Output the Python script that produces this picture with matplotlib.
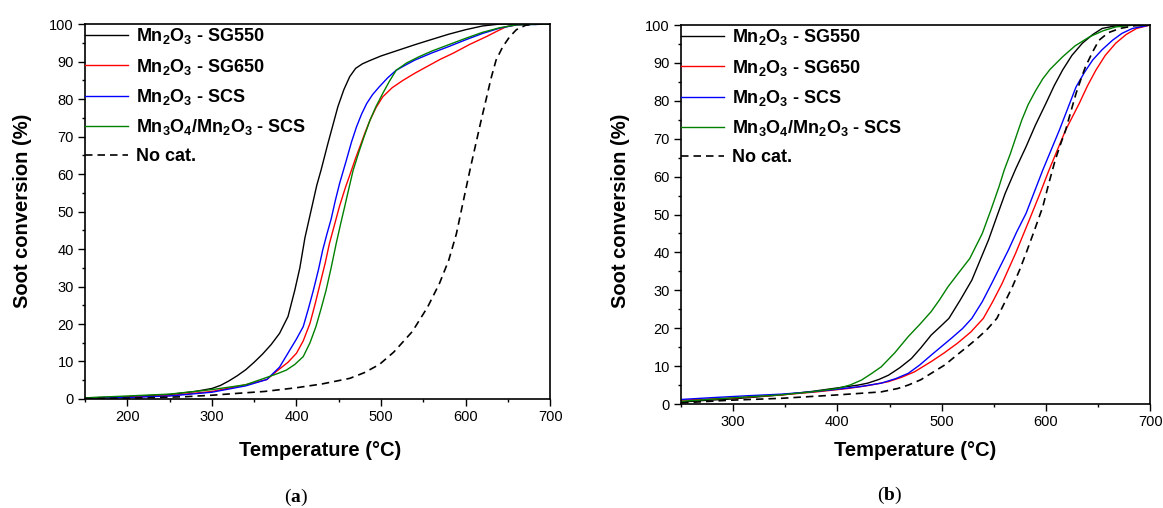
import matplotlib
matplotlib.use('Agg')
import matplotlib.pyplot as plt
from matplotlib.ticker import MultipleLocator

plt.rcParams['font.family'] = ['Liberation Sans', 'DejaVu Sans']
plt.rcParams['mathtext.fontset'] = 'custom'
plt.rcParams['mathtext.rm'] = 'Liberation Sans'
plt.rcParams['mathtext.bf'] = 'Liberation Sans:bold'

##############################################################################
# Data: temperature (deg C) and soot conversion (%).

# Panel (a)
a_sg550_t = [150, 200, 250, 280, 300, 310, 320, 330, 340, 350, 360, 370, 380, 390,
             398, 404, 410, 418, 424, 429, 437, 443, 449, 456, 463, 470, 478, 486,
             500, 520, 540, 557, 580, 600, 620, 640, 660, 700]
a_sg550_c = [0.3, 0.6, 1.2, 2.0, 2.8, 3.6, 4.8, 6.2, 7.8, 9.8, 12, 14.5, 17.5, 22,
             29, 35, 43, 51, 57, 61, 68, 73, 78, 82.5, 86, 88.2, 89.4, 90.2,
             91.5, 93, 94.5, 95.7, 97.3, 98.5, 99.5, 100, 100, 100]

a_sg650_t = [150, 200, 250, 300, 340, 365, 376, 390, 400, 408, 416, 422, 428, 434,
             439, 445, 451, 458, 465, 470, 475, 481, 487, 494, 502, 513, 526, 540,
             557, 570, 585, 605, 624, 638, 648, 660, 680, 700]
a_sg650_c = [0.2, 0.5, 0.9, 2.0, 3.8, 5.2, 7.3, 9.8, 12.2, 15.5, 20.2, 25.3, 30.8, 36.3,
             41.5, 46.5, 51.5, 56.5, 61, 64.3, 67.3, 71, 74.4, 77.7, 80.6, 83, 85, 86.9,
             89, 90.6, 92.2, 94.6, 96.6, 98.2, 99.3, 99.8, 100, 100]

a_scs_t = [150, 200, 250, 300, 340, 365, 380, 392, 400, 408, 414, 420, 426, 431,
           436, 441, 446, 451, 459, 465, 471, 477, 483, 490, 498, 508, 518, 530,
           540, 560, 580, 600, 620, 640, 660, 700]
a_scs_c = [0.2, 0.4, 0.8, 1.8, 3.5, 5.2, 8.5, 13, 16, 19.3, 24, 29, 34.5, 39.7,
           44, 48, 53, 57.5, 63.7, 68.5, 72.6, 76, 78.8, 81.2, 83.3, 85.7, 87.7, 89.2,
           90.4, 92.3, 94, 95.8, 97.5, 98.9, 99.8, 100]

a_mix_t = [150, 200, 250, 300, 340, 368, 378, 388, 398, 408, 416, 423, 429, 435,
           441, 447, 452, 457, 462, 467, 474, 480, 487, 494, 502, 510, 518, 530,
           545, 560, 580, 600, 620, 640, 660, 700]
a_mix_c = [0.3, 0.8, 1.3, 2.5, 3.8, 6, 6.8, 7.7, 9.2, 11.3, 15, 19.3, 24, 29,
           35, 41.5, 46.5, 51.3, 56.2, 61, 66, 70, 74.4, 78, 81.5, 84.8, 87.7, 89.6,
           91.3, 92.8, 94.5, 96.2, 97.8, 99, 99.8, 100]

a_nocat_t = [150, 200, 268, 300, 330, 362, 400, 430, 463, 480, 498, 515, 537, 555,
             569, 580, 589, 600, 606, 612, 618, 624, 630, 636, 644, 652, 660, 671,
             685, 700]
a_nocat_c = [0.1, 0.2, 0.6, 1.0, 1.5, 2, 3, 4, 5.5, 7, 9.2, 12.5, 18, 24.5,
             30.8, 37, 44, 55.7, 62, 68, 74, 79.7, 85.5, 90.4, 94, 96.6, 98.5, 99.7,
             100, 100]

# Panel (b)
b_sg550_t = [250, 270, 297, 320, 346, 375, 404, 420, 429, 440, 449, 460, 471, 480,
             490, 499, 507, 518, 529, 537, 545, 553, 561, 571, 581, 590, 600, 608,
             616, 625, 635, 645, 654, 665, 680, 700]
b_sg550_c = [0.5, 0.9, 1.3, 1.8, 2.4, 3.3, 4.4, 5.0, 5.5, 6.5, 7.6, 9.6, 12, 14.8,
             18.2, 20.5, 22.6, 27.5, 32.7, 38, 43.3, 49.5, 55.6, 62, 67.9, 73.6, 79.3, 84,
             88.1, 92, 95.2, 97.5, 99.1, 99.7, 100, 100]

b_sg650_t = [250, 300, 346, 380, 410, 430, 449, 462, 474, 490, 502, 515, 528, 540,
             549, 558, 571, 584, 594, 603, 611, 619, 632, 640, 648, 657, 667, 677,
             687, 700]
b_sg650_c = [1.0, 1.6, 2.4, 3.2, 4.1, 4.9, 5.9, 7.1, 8.5, 11.2, 13.4, 16, 19, 22.6,
             27, 31.8, 39.8, 48.5, 55.3, 61.7, 67, 72.3, 79.3, 84, 88.1, 92, 95.2, 97.5,
             99.1, 100]

b_scs_t = [250, 281, 315, 346, 375, 400, 422, 442, 456, 468, 479, 490, 500, 510,
           520, 529, 539, 548, 556, 564, 572, 581, 589, 597, 605, 613, 621, 629,
           637, 645, 654, 664, 673, 683, 700]
b_scs_c = [1.2, 1.7, 2.2, 2.6, 3.2, 3.9, 4.6, 5.5, 6.7, 8.1, 10.3, 12.9, 15.2, 17.5,
           19.9, 22.6, 27, 31.8, 36.2, 40.6, 45.4, 50.3, 56, 61.7, 67, 72.3, 78, 83.7,
           87.5, 90.8, 93.5, 96, 97.8, 99.1, 100]

b_mix_t = [250, 281, 315, 345, 375, 400, 412, 423, 432, 442, 455, 468, 479, 490,
           498, 506, 516, 527, 539, 547, 555, 560, 566, 572, 577, 583, 590, 597,
           604, 616, 628, 642, 655, 667, 685, 700]
b_mix_c = [0.7, 1.3, 1.9, 2.4, 3.2, 4.1, 5.0, 6.3, 7.9, 9.8, 13.5, 17.8, 21, 24.4,
           27.5, 30.9, 34.5, 38.4, 45, 51, 57.3, 61.7, 66.1, 71, 75, 79, 82.6, 85.8,
           88.3, 91.6, 94.5, 96.9, 98.5, 99.5, 100, 100]

b_nocat_t = [250, 297, 346, 400, 442, 458, 468, 480, 490, 503, 515, 525, 535, 544,
             553, 560, 568, 575, 581, 589, 597, 603, 609, 614, 619, 624, 629, 634,
             638, 645, 651, 660, 671, 685, 700]
b_nocat_c = [0.3, 1.0, 1.5, 2.4, 3.2, 4.1, 5, 6.4, 8.1, 10.3, 13, 15.2, 17.5, 19.8,
             22.6, 26.5, 31, 35.5, 39.8, 45.8, 52, 58.4, 64.4, 68.5, 72.3, 77.2, 82, 86,
             89, 93, 96, 98, 99.1, 99.8, 100]

labels = [r'$\mathbf{Mn_2O_3}$ - SG550',
          r'$\mathbf{Mn_2O_3}$ - SG650',
          r'$\mathbf{Mn_2O_3}$ - SCS',
          r'$\mathbf{Mn_3O_4/Mn_2O_3}$ - SCS',
          'No cat.']
colors = ['black', '#ff0000', '#0000ff', '#008000']

##############################################################################
fig = plt.figure(figsize=(11.63, 5.08), dpi=100)
ax_a = fig.add_axes([0.0731, 0.2146, 0.400, 0.738])
ax_b = fig.add_axes([0.5856, 0.2047, 0.4033, 0.746])

panels = [
    (ax_a, [(a_sg550_t, a_sg550_c), (a_sg650_t, a_sg650_c), (a_scs_t, a_scs_c),
            (a_mix_t, a_mix_c)], (a_nocat_t, a_nocat_c), 150),
    (ax_b, [(b_sg550_t, b_sg550_c), (b_sg650_t, b_sg650_c), (b_scs_t, b_scs_c),
            (b_mix_t, b_mix_c)], (b_nocat_t, b_nocat_c), 250),
]

for ax, series, nocat, xmin in panels:
    for (t, c), col, lab in zip(series, colors, labels):
        ax.plot(t, c, '-', color=col, lw=1.0, label=lab)
    ax.plot(nocat[0], nocat[1], color='black', lw=1.2, ls=(0, (4.5, 3)), label=labels[4])

    ax.set_xlim(xmin, 700)
    ax.set_ylim(0, 100)
    ax.xaxis.set_minor_locator(MultipleLocator(50))
    ax.yaxis.set_major_locator(MultipleLocator(10))
    ax.yaxis.set_minor_locator(MultipleLocator(5))
    ax.tick_params(which='major', direction='out', length=5, width=1.0,
                   labelsize=10.5, pad=3)
    ax.tick_params(which='minor', direction='out', length=2.5, width=1.0)
    for s in ax.spines.values():
        s.set_linewidth(1.2)
    # labelled x ticks start at the first hundred after the axis start
    ax.set_xticks([x for x in range(200, 701, 100) if x > xmin])

    ax.legend(loc='upper left', bbox_to_anchor=(0, 1 - 2 / 375), frameon=False,
              prop={'weight': 'bold', 'size': 13}, handlelength=2.4,
              handletextpad=0.4, borderpad=0, borderaxespad=0, labelspacing=0.58)

# Axis titles as figure text at fixed spots
for xc, xl in [(23, 320), (620, 915)]:
    fig.text(xc / 1163, 1 - 211 / 508, 'Soot conversion (%)', rotation=90,
             ha='center', va='center', fontsize=14.5, fontweight='bold')
    fig.text(xl / 1163, 1 - 450 / 508, 'Temperature (°C)',
             ha='center', va='center', fontsize=14.5, fontweight='bold')

# Panel captions: "(" normal, letter bold, ")" normal
for x0, y0, letter in [(284, 497, 'a'), (877, 495, 'b')]:
    t1 = fig.text(x0 / 1163, 1 - y0 / 508, '(', family='Liberation Serif',
                  fontsize=14, ha='left', va='center')
    t2 = ax_a.annotate(letter, xy=(1, 0), xycoords=t1, ha='left', va='bottom',
                       family='Liberation Serif', fontsize=14, fontweight='bold',
                       annotation_clip=False)
    ax_a.annotate(')', xy=(1, 0), xycoords=t2, ha='left', va='bottom',
                  family='Liberation Serif', fontsize=14, annotation_clip=False)

plt.savefig('out.png', dpi=100)
plt.close()
